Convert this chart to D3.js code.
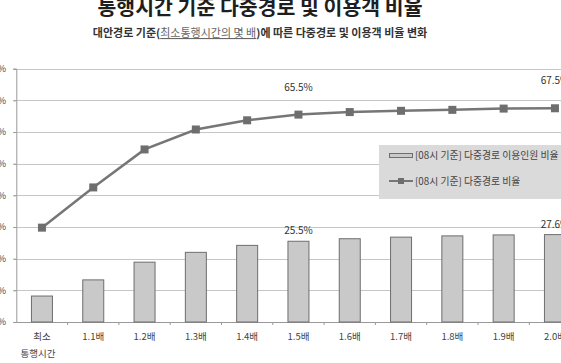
<!DOCTYPE html>
<html>
<head>
<meta charset="utf-8">
<script src="https://cdn.jsdelivr.net/npm/d3@7"></script>
<style>
  body { margin: 0; background: #fff; }
  text { font-family: "Noto Sans CJK KR", "Noto Sans", sans-serif; }
</style>
</head>
<body>
<div id="chart"></div>
<script>
// chart data
var categories = ["최소", "1.1배", "1.2배", "1.3배", "1.4배", "1.5배", "1.6배", "1.7배", "1.8배", "1.9배", "2.0배"];
var userShare = [8.2, 13.3, 18.9, 22.0, 24.2, 25.5, 26.3, 26.8, 27.2, 27.5, 27.6];   // bars
var routeShare = [29.8, 42.5, 54.5, 60.8, 63.7, 65.5, 66.3, 66.7, 67.0, 67.4, 67.5]; // line
var labelled = ["1.5배", "2.0배"];
var yTicks = [0, 10, 20, 30, 40, 50, 60, 70, 80];
var seriesNames = ["[08시 기준] 다중경로 이용인원 비율", "[08시 기준] 다중경로 비율"];

var width = 561;
var height = 363;

// plot area (chart is cropped on the right in the original)
var plotLeft = 16.3, plotTop = 68.7, plotBottom = 322;
var step = 51.3;

var svg = d3.select("#chart")
  .append("svg")
  .attr("width", width)
  .attr("height", height);

var x = d3.scaleBand()
  .domain(categories)
  .range([plotLeft, plotLeft + step * categories.length])
  .padding(0);

var y = d3.scaleLinear()
  .domain([0, 80])
  .range([plotBottom, plotTop]);

var barW = 21;

// titles
svg.append("text")
  .attr("x", 260)
  .attr("y", 15)
  .attr("text-anchor", "middle")
  .style("font-size", "20.5px")
  .style("font-weight", "bold")
  .style("fill", "#1e1e1e")
  .text("통행시간 기준 다중경로 및 이용객 비율");

var sub = svg.append("text")
  .attr("x", 260)
  .attr("y", 37)
  .attr("text-anchor", "middle")
  .style("font-size", "11px")
  .style("font-weight", "bold")
  .style("fill", "#333");
sub.append("tspan").text("대안경로 기준(");
sub.append("tspan")
  .style("fill", "#666")
  .style("font-weight", "normal")
  .style("text-decoration", "underline")
  .text("최소통행시간의  몇 배");
sub.append("tspan").text(")에 따른 다중경로 및 이용객 비율 변화");

// gridlines
svg.append("g")
  .selectAll("line")
  .data(yTicks.slice(1))
  .enter()
  .append("line")
  .attr("x1", plotLeft - 3)
  .attr("x2", width)
  .attr("y1", d => Math.round(y(d)) + 0.5)
  .attr("y2", d => Math.round(y(d)) + 0.5)
  .attr("stroke", "#c6c6c6");

// y axis
var yAxis = d3.axisLeft(y)
  .tickValues(yTicks)
  .tickSize(3)
  .tickFormat(d => d + "%");
var gy = svg.append("g")
  .attr("transform", `translate(${plotLeft}, 0)`)
  .call(yAxis);
gy.select(".domain").attr("stroke", "#999");
gy.selectAll(".tick line").attr("stroke", "#999");
gy.selectAll(".tick text")
  .attr("x", 6 - plotLeft)
  .style("font-size", "9px")
  .style("fill", "#444")
  .style("font-family", "\"Noto Sans CJK KR\", sans-serif");

// x axis
var xAxis = d3.axisBottom(x).tickSize(0).tickFormat("");
var gx = svg.append("g")
  .attr("transform", `translate(0, ${plotBottom})`)
  .call(xAxis);
gx.select(".domain").attr("stroke", "#999");
gx.append("g")
  .selectAll("line")
  .data(categories)
  .enter()
  .append("line")
  .attr("x1", d => x(d) + x.bandwidth())
  .attr("x2", d => x(d) + x.bandwidth())
  .attr("y1", 0)
  .attr("y2", 3)
  .attr("stroke", "#999");

svg.append("g")
  .selectAll("text")
  .data(categories)
  .enter()
  .append("text")
  .attr("x", d => x(d) + x.bandwidth() / 2)
  .attr("y", 340)
  .attr("text-anchor", "middle")
  .style("font-size", "9.5px")
  .style("fill", "#444")
  .text(d => d);
svg.append("text")
  .attr("x", x(categories[0]) + x.bandwidth() / 2 - 4)
  .attr("y", 357)
  .attr("text-anchor", "middle")
  .style("font-size", "9.5px")
  .style("fill", "#444")
  .text("통행시간");

// bars
svg.append("g")
  .selectAll("rect")
  .data(userShare)
  .enter()
  .append("rect")
  .attr("x", (d, i) => x(categories[i]) + x.bandwidth() / 2 - barW / 2)
  .attr("y", d => y(d))
  .attr("width", barW)
  .attr("height", d => plotBottom - y(d))
  .attr("fill", "#c9c9c9")
  .attr("stroke", "#6e6e6e")
  .attr("stroke-width", 1);

// line
var line = d3.line()
  .x((d, i) => x(categories[i]) + x.bandwidth() / 2)
  .y(d => y(d));
svg.append("path")
  .datum(routeShare)
  .attr("d", line)
  .attr("fill", "none")
  .attr("stroke", "#767676")
  .attr("stroke-width", 2.5);
svg.append("g")
  .selectAll("rect")
  .data(routeShare)
  .enter()
  .append("rect")
  .attr("x", (d, i) => x(categories[i]) + x.bandwidth() / 2 - 4)
  .attr("y", d => y(d) - 4)
  .attr("width", 8)
  .attr("height", 8)
  .attr("fill", "#6e6e6e");

// data labels
labelled.forEach(function (c) {
  var i = categories.indexOf(c);
  var cx = x(c) + x.bandwidth() / 2;
  svg.append("text")
    .attr("x", cx)
    .attr("y", y(userShare[i]) - 7)
    .attr("text-anchor", "middle")
    .style("font-size", "10px")
    .style("fill", "#333")
    .text(userShare[i].toFixed(1) + "%");
  svg.append("text")
    .attr("x", cx)
    .attr("y", y(routeShare[i]) - 24)
    .attr("text-anchor", "middle")
    .style("font-size", "10px")
    .style("fill", "#333")
    .text(routeShare[i].toFixed(1) + "%");
});

// legend
var legend = svg.append("g");
legend.append("rect")
  .attr("x", 379)
  .attr("y", 145)
  .attr("width", 200)
  .attr("height", 54)
  .attr("fill", "#dadada");
legend.append("rect")
  .attr("x", 389.5)
  .attr("y", 153.5)
  .attr("width", 23)
  .attr("height", 4)
  .attr("fill", "#c9c9c9")
  .attr("stroke", "#6e6e6e");
legend.append("line")
  .attr("x1", 389)
  .attr("x2", 413)
  .attr("y1", 181)
  .attr("y2", 181)
  .attr("stroke", "#767676")
  .attr("stroke-width", 2);
legend.append("rect")
  .attr("x", 398)
  .attr("y", 178)
  .attr("width", 6)
  .attr("height", 6)
  .attr("fill", "#6e6e6e");
legend.selectAll("text.lg")
  .data(seriesNames)
  .enter()
  .append("text")
  .attr("class", "lg")
  .attr("x", 415)
  .attr("y", (d, i) => i === 0 ? 158.8 : 184.8)
  .style("font-size", "9.8px")
  .style("fill", "#444")
  .text(d => d);
</script>
</body>
</html>
